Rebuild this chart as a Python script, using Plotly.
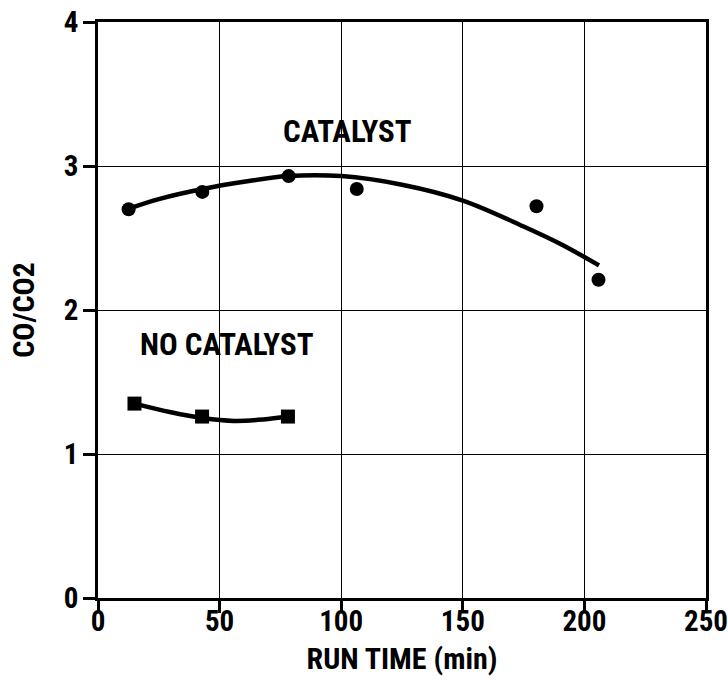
import plotly.graph_objects as go

# Measured data points
cat_x = [12.6, 42.9, 78.4, 106.4, 180.3, 205.8]
cat_y = [2.70, 2.82, 2.93, 2.84, 2.72, 2.21]
# Fitted trend curve
cat_fit_x = [12, 25, 43, 60, 78, 100, 125, 150, 175, 190, 206]
cat_fit_y = [2.70, 2.77, 2.84, 2.89, 2.93, 2.93, 2.87, 2.76, 2.58, 2.46, 2.31]

nocat_x = [15.0, 42.8, 78.1]
nocat_y = [1.35, 1.26, 1.26]
nocat_fit_x = [15, 30, 43, 56, 68, 78]
nocat_fit_y = [1.35, 1.29, 1.25, 1.23, 1.24, 1.26]

x_ticks = [0, 50, 100, 150, 200, 250]
y_ticks = [0, 1, 2, 3, 4]

FONT = "Roboto Condensed, Liberation Sans, Arial, sans-serif"

fig = go.Figure()
fig.add_trace(go.Scatter(x=cat_fit_x, y=cat_fit_y, mode="lines",
                         line=dict(color="black", width=4.5, shape="spline"),
                         hoverinfo="skip", showlegend=False))
fig.add_trace(go.Scatter(x=cat_x, y=cat_y, mode="markers",
                         marker=dict(symbol="circle", size=14, color="black"),
                         showlegend=False))
fig.add_trace(go.Scatter(x=nocat_fit_x, y=nocat_fit_y, mode="lines",
                         line=dict(color="black", width=4.5, shape="spline"),
                         hoverinfo="skip", showlegend=False))
fig.add_trace(go.Scatter(x=nocat_x, y=nocat_y, mode="markers",
                         marker=dict(symbol="square", size=14, color="black"),
                         showlegend=False))

fig.add_annotation(x=102.5, y=3.24, text="CATALYST", showarrow=False,
                   font=dict(family=FONT, size=31, color="black", weight="bold"))
fig.add_annotation(x=53, y=1.76, text="NO CATALYST", showarrow=False,
                   font=dict(family=FONT, size=31, color="black", weight="bold"))

axis_common = dict(
    showline=True, linecolor="black", linewidth=2.8, mirror=True,
    showgrid=True, gridcolor="black", gridwidth=1.4,
    ticks="outside", ticklen=12, tickwidth=2.5, tickcolor="black",
    zeroline=False, automargin=False, ticklabeloverflow="allow",
    tickfont=dict(family=FONT, size=29, color="black", weight="bold"),
)

fig.update_xaxes(range=[0, 250], tickvals=x_ticks, ticklabelstandoff=-17,
                 **axis_common,
                 title=dict(text="RUN TIME (min)", standoff=12,
                            font=dict(family=FONT, size=30, color="black", weight="bold")))
fig.update_yaxes(range=[0, 4], tickvals=y_ticks, ticklabelstandoff=-1,
                 **axis_common,
                 title=dict(text="CO/CO2", standoff=21,
                            font=dict(family=FONT, size=30, color="black", weight="bold")))

fig.update_layout(width=728, height=686,
                  margin=dict(l=98, r=22, t=22, b=88),
                  plot_bgcolor="white", paper_bgcolor="white",
                  font=dict(family=FONT, color="black"))

fig.write_html("out.html",
               config={"displayModeBar": False},
               post_script="document.body.style.margin='0';document.body.style.overflow='hidden';")
